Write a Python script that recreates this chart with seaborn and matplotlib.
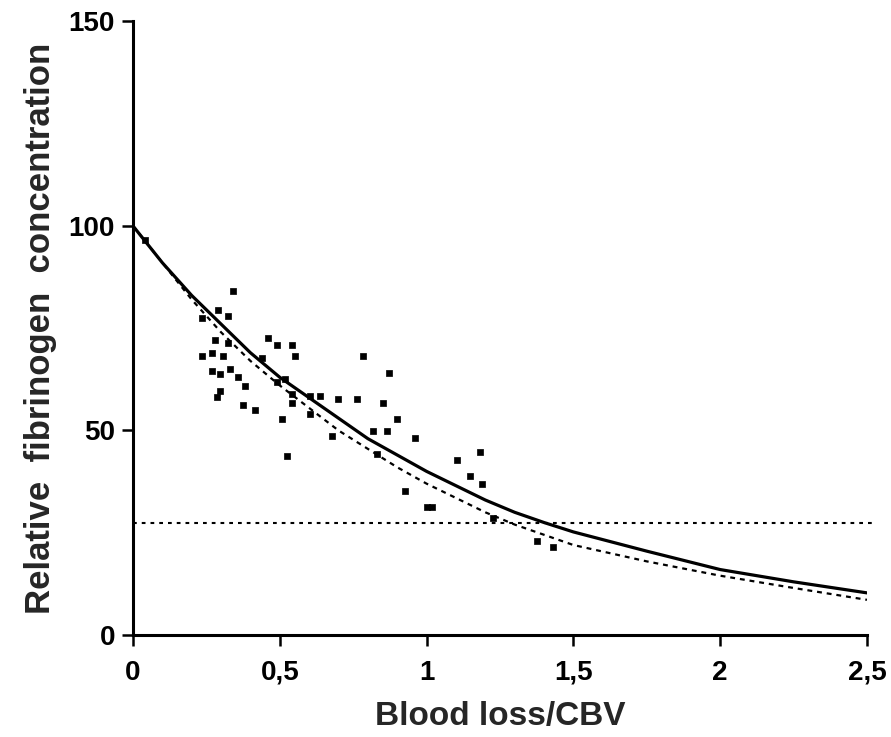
import matplotlib
matplotlib.use("Agg")
import matplotlib.pyplot as plt
import seaborn as sns
import pandas as pd

# Observed data points (blood loss / CBV, relative fibrinogen concentration)
obs_x = [0.041, 0.235, 0.290, 0.341, 0.324, 0.279, 0.324, 0.460, 0.491, 0.542,
         0.235, 0.269, 0.307, 0.440, 0.552, 0.269, 0.296, 0.330, 0.358, 0.382,
         0.296, 0.286, 0.491, 0.518, 0.542, 0.603, 0.637, 0.542, 0.375, 0.416,
         0.508, 0.603, 0.784, 0.872, 0.698, 0.763, 0.852, 0.899, 0.961, 0.818,
         0.865, 0.678, 0.831, 0.525, 1.182, 1.104, 1.148, 1.189, 0.927, 1.002,
         1.019, 1.227, 1.376, 1.430]
obs_y = [96.6, 77.4, 79.4, 84.0, 78.1, 72.0, 71.3, 72.7, 70.8, 71.0,
         68.1, 69.0, 68.1, 67.6, 68.1, 64.6, 63.9, 65.1, 63.1, 60.9,
         59.7, 58.2, 61.9, 62.7, 59.0, 58.5, 58.5, 56.8, 56.3, 55.0,
         52.8, 54.1, 68.1, 64.1, 57.7, 57.7, 56.8, 52.8, 48.2, 49.9,
         49.9, 48.6, 44.2, 43.7, 44.7, 42.8, 38.8, 36.9, 35.1, 31.4,
         31.4, 28.7, 22.9, 21.4]

# Curves
curve_x = [0, 0.1, 0.2, 0.3, 0.4, 0.5, 0.6, 0.7, 0.8, 0.9, 1.0, 1.1, 1.2, 1.3,
           1.4, 1.5, 1.75, 2.0, 2.25, 2.5]
solid_y = [100, 91, 83, 76, 69, 63, 58, 53, 48, 44, 40, 36.5, 33, 30, 27.5,
           25.2, 20.5, 16, 13, 10.3]
dashed_y = [100, 91, 82, 74, 67, 61, 55.5, 50, 45.5, 41, 37, 33.5, 30, 27,
            24.5, 22, 18, 14.5, 11.5, 8.6]

threshold = 27.5
threshold_x = [0, 2.53]

x_ticks = [0, 0.5, 1, 1.5, 2, 2.5]
x_tick_labels = ["0", "0,5", "1", "1,5", "2", "2,5"]
y_ticks = [0, 50, 100, 150]
y_tick_labels = ["0", "50", "100", "150"]

sns.set_style("ticks")
plt.rcParams['font.family'] = ['Liberation Sans', 'DejaVu Sans']

fig = plt.figure(figsize=(8.91, 7.37), dpi=100)
ax = fig.add_axes([0.1493, 0.1384, 0.8237, 0.8325])

df_obs = pd.DataFrame({"x": obs_x, "y": obs_y})
df_curve = pd.DataFrame({"x": curve_x, "solid": solid_y, "dashed": dashed_y})

sns.lineplot(data=df_curve, x="x", y="solid", ax=ax, color="black",
             linewidth=2.3, zorder=3)
sns.lineplot(data=df_curve, x="x", y="dashed", ax=ax, color="black",
             linewidth=1.6, zorder=2)
ax.lines[-1].set_dashes((2.2, 2.2))
th_line, = ax.plot(threshold_x, [threshold, threshold], color="black",
                   linewidth=1.5, clip_on=False)
th_line.set_dashes((1.8, 2.4))
sns.scatterplot(data=df_obs, x="x", y="y", ax=ax, color="black", marker="s",
                s=20, edgecolor="black", linewidth=0.5, zorder=4)

ax.set_xlim(0, 2.5)
ax.set_ylim(0, 150)
ax.set_xticks(x_ticks)
ax.set_xticklabels(x_tick_labels)
ax.set_yticks(y_ticks)
ax.set_yticklabels(y_tick_labels)
ax.tick_params(axis="both", direction="out", length=8, width=1.8,
               labelsize=20, color="black", labelcolor="black")
ax.tick_params(axis="x", pad=10)
ax.tick_params(axis="y", pad=5)
for lab in ax.get_xticklabels() + ax.get_yticklabels():
    lab.set_fontweight("bold")

for side in ["top", "right"]:
    ax.spines[side].set_visible(False)
for side in ["left", "bottom"]:
    ax.spines[side].set_linewidth(2.2)
    ax.spines[side].set_color("black")

ax.set_xlabel("Blood loss/CBV", fontsize=24, fontweight="bold", labelpad=11)
ax.set_ylabel("Relative  fibrinogen  concentration", fontsize=25,
              fontweight="bold", labelpad=8)

fig.savefig("out.png", dpi=100, facecolor="white")
